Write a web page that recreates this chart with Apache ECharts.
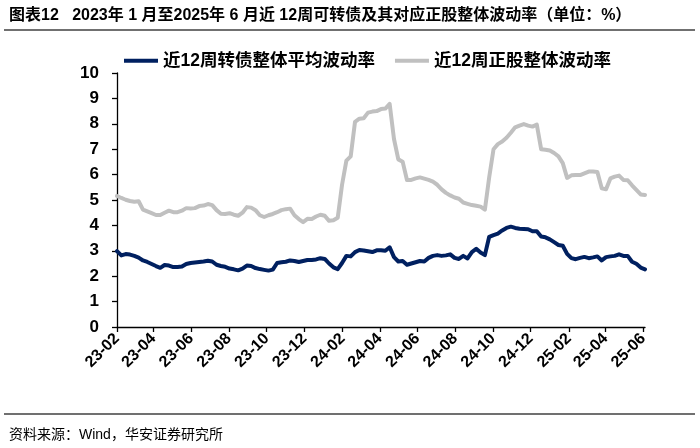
<!DOCTYPE html>
<html>
<head>
<meta charset="utf-8">
<script src="https://cdn.jsdelivr.net/npm/echarts@6/dist/echarts.min.js"></script>
<style>html,body{margin:0;padding:0;background:#fff}#c{width:700px;height:448px}</style>
</head>
<body>
<div id="c"></div>
<script>
const titleText = '图表12   2023年 1 月至2025年 6 月近 12周可转债及其对应正股整体波动率（单位：%）';
const sourceText = '资料来源：Wind，华安证券研究所';
const seriesNames = ['近12周转债整体平均波动率', '近12周正股整体波动率'];
const firstDate = '2023-02-03';
const lastDate = '2025-06-06';
const tickDates = ['2023-02-03','2023-04-03','2023-06-03','2023-08-03','2023-10-03','2023-12-03','2024-02-03','2024-04-03','2024-06-03','2024-08-03','2024-10-03','2024-12-03','2025-02-03','2025-04-03','2025-06-03'];
const tickLabels = ['23-02','23-04','23-06','23-08','23-10','23-12','24-02','24-04','24-06','24-08','24-10','24-12','25-02','25-04','25-06'];
const yTicks = [0,1,2,3,4,5,6,7,8,9,10];

// weekly values (one per week, starting at firstDate)
const bondVol = [2.99,2.82,2.87,2.85,2.80,2.73,2.62,2.56,2.48,2.40,
2.33,2.44,2.42,2.36,2.36,2.38,2.48,2.52,2.54,2.56,
2.58,2.61,2.58,2.45,2.40,2.37,2.30,2.27,2.23,2.30,
2.42,2.40,2.32,2.28,2.25,2.22,2.26,2.52,2.55,2.57,
2.62,2.60,2.56,2.60,2.64,2.64,2.66,2.71,2.68,2.50,
2.35,2.28,2.52,2.80,2.78,2.95,3.03,3.01,2.98,2.95,
3.02,3.02,3.00,3.14,2.75,2.58,2.60,2.45,2.50,2.55,
2.60,2.58,2.72,2.80,2.83,2.80,2.82,2.86,2.72,2.68,
2.80,2.70,2.95,3.08,2.93,2.83,3.55,3.62,3.68,3.80,
3.90,3.95,3.90,3.87,3.86,3.85,3.77,3.77,3.56,3.53,
3.45,3.34,3.23,3.20,2.88,2.71,2.67,2.72,2.76,2.71,
2.74,2.78,2.62,2.75,2.78,2.80,2.86,2.80,2.80,2.57,
2.49,2.34,2.27];
const stockVol = [5.16,5.08,5.01,4.96,4.93,4.95,4.62,4.55,4.48,4.41,
4.41,4.50,4.58,4.52,4.52,4.58,4.68,4.67,4.68,4.76,
4.78,4.84,4.80,4.60,4.46,4.45,4.48,4.42,4.38,4.50,
4.72,4.70,4.60,4.40,4.33,4.40,4.45,4.52,4.60,4.64,
4.66,4.40,4.25,4.13,4.26,4.25,4.35,4.42,4.38,4.18,
4.20,4.30,5.60,6.55,6.72,8.08,8.20,8.22,8.44,8.48,
8.50,8.58,8.60,8.78,7.40,6.60,6.51,5.79,5.79,5.85,
5.89,5.84,5.79,5.72,5.60,5.42,5.28,5.18,5.10,5.05,
4.90,4.85,4.80,4.77,4.74,4.62,5.90,7.00,7.20,7.30,
7.45,7.65,7.86,7.93,7.99,7.93,7.89,7.97,7.00,6.98,
6.95,6.85,6.72,6.45,5.87,5.97,5.98,5.98,6.05,6.12,
6.12,6.10,5.46,5.42,5.85,5.92,5.96,5.79,5.78,5.58,
5.40,5.22,5.20];

function ts(s){ const p = s.split('-').map(Number); return Date.UTC(p[0], p[1]-1, p[2]); }
const weekDates = [];
for (let i = 0; i < bondVol.length; i++) weekDates.push(ts(firstDate) + i * 7 * 86400000);
const tickTimes = tickDates.map(ts);

const chart = echarts.init(document.getElementById('c'), null, {renderer: 'canvas'});
const numFont = '"Liberation Sans", Arial, sans-serif';
const cjkFont = '"Liberation Sans", "Noto Sans CJK SC", sans-serif';
chart.setOption({
  animation: false,
  backgroundColor: '#fff',
  title: [
    {text: titleText, left: 4, top: 3, textStyle: {fontFamily: cjkFont, fontSize: 16, fontWeight: 'bold', color: '#000'}},
    {text: sourceText, left: 4, top: 423, textStyle: {fontFamily: cjkFont, fontSize: 14, fontWeight: 'normal', color: '#000'}}
  ],
  graphic: [
    {type: 'line', shape: {x1: 4, y1: 30, x2: 695, y2: 30}, style: {stroke: '#404040', lineWidth: 1.5}},
    {type: 'line', shape: {x1: 4, y1: 414, x2: 695, y2: 414}, style: {stroke: '#404040', lineWidth: 1.5}}
  ],
  legend: {
    left: 119, top: 47, itemWidth: 34, itemHeight: 4, itemGap: 20, icon: 'rect',
    textStyle: {fontFamily: cjkFont, fontSize: 17.5, fontWeight: 'bold', color: '#000'},
    data: seriesNames
  },
  grid: {left: 117, right: 55, top: 73, bottom: 121, containLabel: false},
  xAxis: {
    type: 'value', min: ts(firstDate), max: ts(lastDate), scale: true,
    axisLine: {show: true, lineStyle: {color: '#000', width: 1.3}},
    axisTick: {show: true, length: 5, lineStyle: {color: '#000', width: 1.3}, customValues: tickTimes},
    axisLabel: {
      customValues: tickTimes, rotate: 45, margin: 9, hideOverlap: false, showMinLabel: true, showMaxLabel: true,
      fontFamily: numFont, fontSize: 16, fontWeight: 'bold', color: '#000',
      formatter: function (v) { const k = tickTimes.indexOf(v); return k >= 0 ? tickLabels[k] : ''; }
    },
    splitLine: {show: false}
  },
  yAxis: {
    type: 'value', min: yTicks[0], max: yTicks[yTicks.length-1], interval: 1,
    axisLine: {show: true, lineStyle: {color: '#000', width: 1.3}},
    axisTick: {show: true, length: 5, lineStyle: {color: '#000', width: 1.3}},
    axisLabel: {margin: 18, fontFamily: numFont, fontSize: 17, fontWeight: 'bold', color: '#000'},
    splitLine: {show: false}
  },
  series: [
    {name: seriesNames[0], type: 'line', showSymbol: false, symbol: 'none', color: '#002060',
     lineStyle: {width: 4, color: '#002060', cap: 'round', join: 'round'}, z: 3,
     data: weekDates.map((d, i) => [d, bondVol[i]])},
    {name: seriesNames[1], type: 'line', showSymbol: false, symbol: 'none', color: '#C0C0C0',
     lineStyle: {width: 4, color: '#C0C0C0', cap: 'round', join: 'round'}, z: 2,
     data: weekDates.map((d, i) => [d, stockVol[i]])}
  ]
});
</script>
</body>
</html>
